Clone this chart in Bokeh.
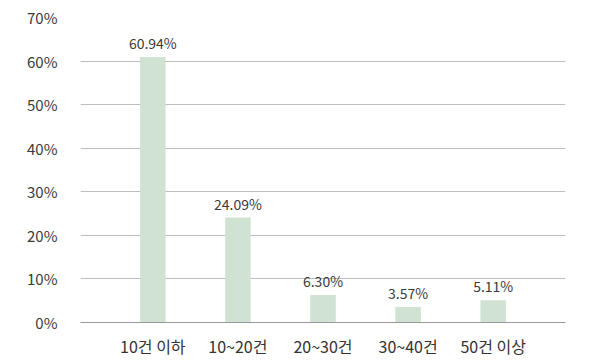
from bokeh.plotting import figure
from bokeh.models import ColumnDataSource, FactorRange, FixedTicker, Range1d
from bokeh.core.properties import value
from bokeh.embed import file_html
from bokeh.resources import INLINE

categories = ["10건 이하", "10~20건", "20~30건", "30~40건", "50건 이상"]
values = [60.94, 24.09, 6.30, 3.57, 5.11]
labels = ["60.94%", "24.09%", "6.30%", "3.57%", "5.11%"]
yticks = [0, 10, 20, 30, 40, 50, 60, 70]

FONT = "Noto Sans CJK KR"
src = ColumnDataSource(dict(cat=categories, val=values, lab=labels))

p = figure(width=600, height=360, output_backend="svg", toolbar_location=None,
           x_range=FactorRange(factors=categories, range_padding=0.14),
           y_range=Range1d(0, 70),
           min_border_left=80, min_border_right=35, min_border_top=17, min_border_bottom=38)
p.outline_line_color = None
p.background_fill_color = "white"
p.border_fill_color = "white"

p.vbar(x="cat", top="val", width=0.3, source=src, fill_color="#d0e3d2", line_color=None)
p.text(x="cat", y="val", text="lab", source=src, text_align="center", text_baseline="bottom",
       y_offset=-4, text_font=value(FONT), text_font_size="14px", text_color="#3a3a3a")

p.yaxis.ticker = FixedTicker(ticks=yticks)
p.yaxis.major_label_overrides = {t: f"{t}%" for t in yticks}
p.yaxis.axis_line_color = None
p.yaxis.major_tick_line_color = None
p.yaxis.minor_tick_line_color = None
p.yaxis.major_label_standoff = 17
p.yaxis.major_label_text_font = FONT
p.yaxis.major_label_text_font_size = "15px"
p.yaxis.major_label_text_color = "#3a3a3a"

p.xaxis.axis_line_color = "#999999"
p.xaxis.major_tick_line_color = None
p.xaxis.minor_tick_line_color = None
p.xaxis.major_label_standoff = 5
p.xaxis.major_label_text_font = FONT
p.xaxis.major_label_text_font_size = "16px"
p.xaxis.major_label_text_color = "#333333"

p.xgrid.grid_line_color = None
p.ygrid.grid_line_color = "#bdbdbd"
p.ygrid.ticker = FixedTicker(ticks=yticks)

open("out.html", "w").write(file_html(p, INLINE))
